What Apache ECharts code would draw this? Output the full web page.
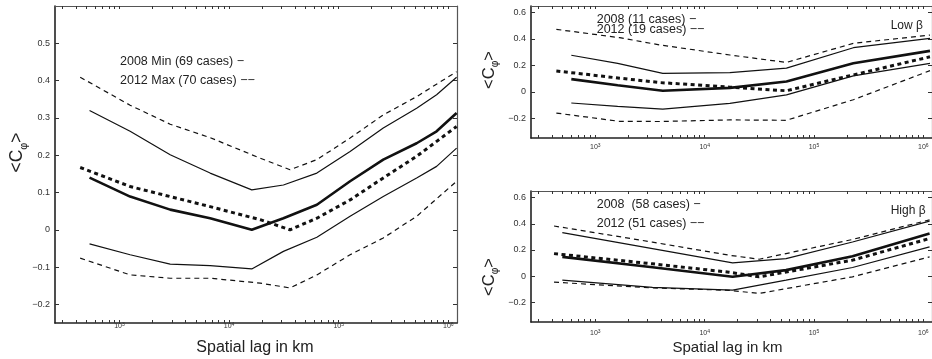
<!DOCTYPE html>
<html><head><meta charset="utf-8">
<script src="https://cdn.jsdelivr.net/npm/echarts@6/dist/echarts.min.js"></script>
<style>html,body{margin:0;padding:0;background:#fff}#c{width:932px;height:359px}</style>
</head><body><div id="c"></div>
<script>
// ---------- tick labels ----------
const xTickValues = [1e3, 1e4, 1e5, 1e6];
const yTicksAll = [-0.2, -0.1, 0, 0.1, 0.2, 0.3, 0.4, 0.5];
const yTicksBeta = [-0.2, 0, 0.2, 0.4, 0.6];

// ---------- panel 1: all cases (2008 Min / 2012 Max) ----------
const allX2008 = [533, 1250, 2900, 6710, 16100, 31300, 63200, 127000, 255000, 514000, 782000, 1190000];
const allMean2008 = [0.14, 0.089, 0.054, 0.031, 0.0, 0.031, 0.067, 0.13, 0.188, 0.232, 0.264, 0.313];
const allUp2008 = [0.32, 0.264, 0.201, 0.152, 0.107, 0.12, 0.152, 0.21, 0.273, 0.326, 0.362, 0.409];
const allLo2008 = [-0.038, -0.067, -0.092, -0.096, -0.105, -0.058, -0.02, 0.036, 0.089, 0.139, 0.17, 0.219];
const allX2012 = [438, 1250, 2900, 6710, 19200, 36000, 63200, 127000, 255000, 514000, 1190000];
const allMean2012 = [0.167, 0.116, 0.089, 0.062, 0.027, 0.0, 0.031, 0.08, 0.139, 0.197, 0.277];
const allUp2012 = [0.409, 0.334, 0.283, 0.247, 0.192, 0.161, 0.188, 0.246, 0.308, 0.357, 0.424];
const allLo2012 = [-0.076, -0.121, -0.13, -0.13, -0.143, -0.156, -0.121, -0.067, -0.022, 0.036, 0.13];

// ---------- panel 2: low beta ----------
const lowX2008 = [603, 1600, 4140, 17000, 56000, 229000, 1150000];
const lowMean2008 = [0.096, 0.05, 0.0075, 0.03, 0.078, 0.216, 0.31];
const lowUp2008 = [0.277, 0.215, 0.14, 0.145, 0.179, 0.334, 0.405];
const lowLo2008 = [-0.085, -0.11, -0.131, -0.088, -0.023, 0.121, 0.215];
const lowX2012 = [440, 1670, 3880, 17000, 55800, 229000, 1150000];
const lowMean2012 = [0.158, 0.103, 0.07, 0.035, 0.008, 0.128, 0.265];
const lowUp2012 = [0.473, 0.41, 0.355, 0.279, 0.2225, 0.367, 0.43];
const lowLo2012 = [-0.161, -0.224, -0.225, -0.213, -0.216, -0.06, 0.16];

// ---------- panel 3: high beta ----------
const highX2008 = [499, 3330, 18000, 55500, 225000, 1140000];
const highMean2008 = [0.147, 0.068, -0.005, 0.046, 0.152, 0.325];
const highUp2008 = [0.332, 0.21, 0.101, 0.134, 0.261, 0.42];
const highLo2008 = [-0.03, -0.086, -0.106, -0.03, 0.066, 0.223];
const highX2012 = [419, 3330, 16700, 31500, 225000, 1140000];
const highMean2012 = [0.172, 0.094, 0.03, -0.005, 0.122, 0.287];
const highUp2012 = [0.383, 0.26, 0.16, 0.129, 0.28, 0.43];
const highLo2012 = [-0.046, -0.09, -0.108, -0.132, -0.005, 0.147];

// ---------- build ----------
const XMIN = 258, XMAX = 1.2e6;
const xMinorTicks = [];
for (let k = 2; k <= 6; k++) for (let m = 1; m <= 9; m++) {
  const v = m * Math.pow(10, k);
  if (v >= XMIN && v <= XMAX) xMinorTicks.push(v);
}
const FONT = "'Liberation Sans', Arial, Helvetica, sans-serif";
const INK = '#111';

function xAx(gi, pos, margin) {
  const bottom = pos === 'bottom';
  return {
    type: 'log', logBase: 10, gridIndex: gi, position: pos, min: XMIN, max: XMAX,
    axisLine: { show: true, onZero: false, lineStyle: { color: bottom ? '#222' : '#555', width: bottom ? 1.6 : 1.2 } },
    axisTick: { show: true, inside: true, length: 3, customValues: xMinorTicks, lineStyle: { color: '#333', width: 1 } },
    axisLabel: {
      show: bottom, customValues: xTickValues, margin: margin,
      formatter: v => '{b|10}{s|' + Math.round(Math.log10(v)) + '}',
      rich: {
        b: { fontSize: 7, fontFamily: FONT, color: '#333', lineHeight: 8, verticalAlign: 'bottom', padding: [3, 0, 0, 0] },
        s: { fontSize: 5, fontFamily: FONT, color: '#333', lineHeight: 5, verticalAlign: 'top' }
      }
    },
    splitLine: { show: false }, minorTick: { show: false }
  };
}
function yFmt(v) {
  if (Math.abs(v) < 1e-9) return '0';
  const s = Math.abs(v).toFixed(1);
  return (v < 0 ? '\u2212' : '') + s;
}
function yAx(gi, pos, min, max, ticks) {
  const left = pos === 'left';
  return {
    type: 'value', gridIndex: gi, position: pos, min: min, max: max,
    axisLine: { show: true, onZero: false, lineStyle: { color: left ? '#222' : '#555', width: left ? 1.6 : 1.2 } },
    axisTick: { show: true, inside: true, length: 4, customValues: ticks, lineStyle: { color: '#333', width: 1 } },
    axisLabel: { show: left, customValues: ticks, formatter: yFmt, fontSize: 9, fontFamily: FONT, color: '#333', margin: 5 },
    splitLine: { show: false }, minorTick: { show: false }
  };
}
function zip(xs, ys) { return xs.map((x, i) => [x, ys[i]]); }
function ser(gi, xs, ys, kind) {
  const styles = {
    thin: { width: 1.2, type: 'solid' },
    thick: { width: 2.6, type: 'solid' },
    thinDash: { width: 1.2, type: [5, 4] },
    thickDash: { width: 3, type: [4, 3.5] }
  };
  const ls = styles[kind];
  return {
    type: 'line', xAxisIndex: gi * 2, yAxisIndex: gi * 2, data: zip(xs, ys),
    showSymbol: false, symbol: 'none', silent: true, animation: false, clip: true,
    lineStyle: { color: INK, width: ls.width, type: ls.type }
  };
}

const grids = [
  { left: 55, top: 6, width: 402, height: 317 },
  { left: 531, top: 6, width: 401, height: 132 },
  { left: 531, top: 191, width: 401, height: 131 }
];
const xAxes = [], yAxes = [];
const ranges = [[-0.25, 0.6, yTicksAll], [-0.35, 0.65, yTicksBeta], [-0.35, 0.65, yTicksBeta]];
const margins = [-1, 5, 7];
for (let g = 0; g < 3; g++) {
  xAxes.push(xAx(g, 'bottom', margins[g]));
  xAxes.push(xAx(g, 'top', 0));
  yAxes.push(yAx(g, 'left', ranges[g][0], ranges[g][1], ranges[g][2]));
  yAxes.push(yAx(g, 'right', ranges[g][0], ranges[g][1], ranges[g][2]));
}

const series = [
  ser(0, allX2008, allUp2008, 'thin'), ser(0, allX2008, allLo2008, 'thin'), ser(0, allX2008, allMean2008, 'thick'),
  ser(0, allX2012, allUp2012, 'thinDash'), ser(0, allX2012, allLo2012, 'thinDash'), ser(0, allX2012, allMean2012, 'thickDash'),
  ser(1, lowX2008, lowUp2008, 'thin'), ser(1, lowX2008, lowLo2008, 'thin'), ser(1, lowX2008, lowMean2008, 'thick'),
  ser(1, lowX2012, lowUp2012, 'thinDash'), ser(1, lowX2012, lowLo2012, 'thinDash'), ser(1, lowX2012, lowMean2012, 'thickDash'),
  ser(2, highX2008, highUp2008, 'thin'), ser(2, highX2008, highLo2008, 'thin'), ser(2, highX2008, highMean2008, 'thick'),
  ser(2, highX2012, highUp2012, 'thinDash'), ser(2, highX2012, highLo2012, 'thinDash'), ser(2, highX2012, highMean2012, 'thickDash')
];

function txt(x, y, text, size, align) {
  return { type: 'text', x: x, y: y, silent: true,
    style: { text: text, font: size + 'px ' + FONT, fill: '#222', align: align || 'left', verticalAlign: 'middle' } };
}
function yName(x, y, size) {
  return { type: 'text', x: x, y: y, rotation: Math.PI / 2, silent: true,
    style: {
      text: '{m|<C}{sub|\u03C6}{m|>}', align: 'center', verticalAlign: 'middle',
      rich: {
        m: { fontSize: size, fontFamily: FONT, fill: '#222', lineHeight: size, verticalAlign: 'top' },
        sub: { fontSize: size * 0.62, fontFamily: FONT, fill: '#222', lineHeight: size * 0.62, verticalAlign: 'top', padding: [size * 0.6, 0, 0, 0] }
      }
    } };
}

const graphic = [
  txt(120, 62, '2008 Min (69 cases) \u2212', 12.5),
  txt(120, 81, '2012 Max (70 cases) \u2212\u2212', 12.5),
  txt(596.7, 19.5, '2008 (11 cases) \u2212', 12.5),
  txt(596.7, 29.5, '2012 (19 cases) \u2212\u2212', 12.5),
  txt(890.7, 26, 'Low \u03B2', 12),
  txt(596.7, 204.3, '2008  (58 cases) \u2212', 12.5),
  txt(596.7, 223.5, '2012 (51 cases) \u2212\u2212', 12.5),
  txt(890.7, 211, 'High \u03B2', 12),
  txt(255, 348, 'Spatial lag in km', 16, 'center'),
  txt(727.5, 347.7, 'Spatial lag in km', 15, 'center'),
  yName(17, 152.5, 17.5),
  yName(489, 70, 16.5),
  yName(489, 277, 16.5)
];

const chart = echarts.init(document.getElementById('c'), null, { renderer: 'canvas' });
chart.setOption({
  animation: false,
  backgroundColor: '#fff',
  grid: grids,
  xAxis: xAxes,
  yAxis: yAxes,
  series: series,
  graphic: graphic
});
</script>
</body></html>
